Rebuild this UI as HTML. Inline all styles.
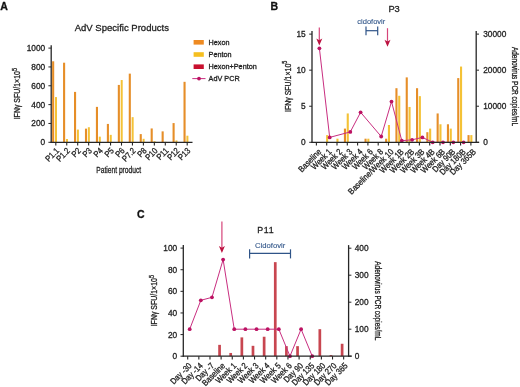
<!DOCTYPE html>
<html><head><meta charset="utf-8"><style>html,body{margin:0;padding:0;background:#fff;}body{width:520px;height:387px;overflow:hidden;font-family:"Liberation Sans", sans-serif;}svg{display:block;filter:blur(0.3px);}</style></head><body>
<svg width="520" height="387" viewBox="0 0 520 387" font-family='"Liberation Sans", sans-serif'>
<style>text{stroke:currentColor;stroke-width:0.3;paint-order:stroke;}</style>
<rect width="520" height="387" fill="#ffffff"/>
<text x="0.20" y="9.60" font-size="10.5" text-anchor="start" fill="#111" color="#111" font-weight="bold">A</text>
<g transform="translate(121.8 31.3) scale(0.972 1)"><text x="0.00" y="0.00" font-size="9.8" text-anchor="middle" fill="#1f1f1f" color="#1f1f1f" font-weight="normal">AdV Specific Products</text></g>
<rect x="52.10" y="61.29" width="2.10" height="81.01" fill="#E68E28"/>
<rect x="55.00" y="97.08" width="2.00" height="45.22" fill="#F4C236"/>
<rect x="63.05" y="62.70" width="2.10" height="79.60" fill="#E68E28"/>
<rect x="65.95" y="139.00" width="2.00" height="3.30" fill="#F4C236"/>
<rect x="74.00" y="91.90" width="2.10" height="50.40" fill="#E68E28"/>
<rect x="76.90" y="129.58" width="2.00" height="12.72" fill="#F4C236"/>
<rect x="84.95" y="128.64" width="2.10" height="13.66" fill="#E68E28"/>
<rect x="87.85" y="127.23" width="2.00" height="15.07" fill="#F4C236"/>
<rect x="95.90" y="106.88" width="2.10" height="35.42" fill="#E68E28"/>
<rect x="98.80" y="136.65" width="2.00" height="5.65" fill="#F4C236"/>
<rect x="106.85" y="123.93" width="2.10" height="18.37" fill="#E68E28"/>
<rect x="109.75" y="134.86" width="2.00" height="7.44" fill="#F4C236"/>
<rect x="117.80" y="84.93" width="2.10" height="57.37" fill="#E68E28"/>
<rect x="120.70" y="80.03" width="2.00" height="62.27" fill="#F4C236"/>
<rect x="128.75" y="73.63" width="2.10" height="68.67" fill="#E68E28"/>
<rect x="131.65" y="117.15" width="2.00" height="25.15" fill="#F4C236"/>
<rect x="139.70" y="134.10" width="2.10" height="8.20" fill="#E68E28"/>
<rect x="142.60" y="138.81" width="2.00" height="3.49" fill="#F4C236"/>
<rect x="150.65" y="128.45" width="2.10" height="13.85" fill="#E68E28"/>
<rect x="153.55" y="141.17" width="2.00" height="1.13" fill="#F4C236"/>
<rect x="161.60" y="131.37" width="2.10" height="10.93" fill="#E68E28"/>
<rect x="164.50" y="141.83" width="2.00" height="0.47" fill="#F4C236"/>
<rect x="172.55" y="123.08" width="2.10" height="19.22" fill="#E68E28"/>
<rect x="175.45" y="140.42" width="2.00" height="1.88" fill="#F4C236"/>
<rect x="183.50" y="81.82" width="2.10" height="60.48" fill="#E68E28"/>
<rect x="186.40" y="135.71" width="2.00" height="6.59" fill="#F4C236"/>
<line x1="51.20" y1="45.30" x2="51.20" y2="142.90" stroke="#262626" stroke-width="1.3"/>
<line x1="50.60" y1="142.30" x2="192.50" y2="142.30" stroke="#262626" stroke-width="1.3"/>
<line x1="48.40" y1="142.30" x2="51.20" y2="142.30" stroke="#262626" stroke-width="1.0"/>
<text x="45.20" y="145.30" font-size="8.3" text-anchor="end" fill="#1f1f1f" color="#1f1f1f" font-weight="normal">0</text>
<line x1="48.40" y1="123.46" x2="51.20" y2="123.46" stroke="#262626" stroke-width="1.0"/>
<text x="45.20" y="126.46" font-size="8.3" text-anchor="end" fill="#1f1f1f" color="#1f1f1f" font-weight="normal">200</text>
<line x1="48.40" y1="104.62" x2="51.20" y2="104.62" stroke="#262626" stroke-width="1.0"/>
<text x="45.20" y="107.62" font-size="8.3" text-anchor="end" fill="#1f1f1f" color="#1f1f1f" font-weight="normal">400</text>
<line x1="48.40" y1="85.78" x2="51.20" y2="85.78" stroke="#262626" stroke-width="1.0"/>
<text x="45.20" y="88.78" font-size="8.3" text-anchor="end" fill="#1f1f1f" color="#1f1f1f" font-weight="normal">600</text>
<line x1="48.40" y1="66.94" x2="51.20" y2="66.94" stroke="#262626" stroke-width="1.0"/>
<text x="45.20" y="69.94" font-size="8.3" text-anchor="end" fill="#1f1f1f" color="#1f1f1f" font-weight="normal">800</text>
<line x1="48.40" y1="48.10" x2="51.20" y2="48.10" stroke="#262626" stroke-width="1.0"/>
<text x="45.20" y="51.10" font-size="8.3" text-anchor="end" fill="#1f1f1f" color="#1f1f1f" font-weight="normal">1000</text>
<line x1="55.80" y1="142.30" x2="55.80" y2="145.60" stroke="#262626" stroke-width="1.1"/>
<g transform="translate(59.60 151.40) rotate(-45) scale(0.87 1)"><text x="0" y="0" font-size="8.6" text-anchor="end" fill="#1f1f1f" color="#1f1f1f">P1.1</text></g>
<line x1="66.75" y1="142.30" x2="66.75" y2="145.60" stroke="#262626" stroke-width="1.1"/>
<g transform="translate(70.55 151.40) rotate(-45) scale(0.87 1)"><text x="0" y="0" font-size="8.6" text-anchor="end" fill="#1f1f1f" color="#1f1f1f">P1.2</text></g>
<line x1="77.70" y1="142.30" x2="77.70" y2="145.60" stroke="#262626" stroke-width="1.1"/>
<g transform="translate(81.50 151.40) rotate(-45) scale(0.87 1)"><text x="0" y="0" font-size="8.6" text-anchor="end" fill="#1f1f1f" color="#1f1f1f">P2</text></g>
<line x1="88.65" y1="142.30" x2="88.65" y2="145.60" stroke="#262626" stroke-width="1.1"/>
<g transform="translate(92.45 151.40) rotate(-45) scale(0.87 1)"><text x="0" y="0" font-size="8.6" text-anchor="end" fill="#1f1f1f" color="#1f1f1f">P3</text></g>
<line x1="99.60" y1="142.30" x2="99.60" y2="145.60" stroke="#262626" stroke-width="1.1"/>
<g transform="translate(103.40 151.40) rotate(-45) scale(0.87 1)"><text x="0" y="0" font-size="8.6" text-anchor="end" fill="#1f1f1f" color="#1f1f1f">P4</text></g>
<line x1="110.55" y1="142.30" x2="110.55" y2="145.60" stroke="#262626" stroke-width="1.1"/>
<g transform="translate(114.35 151.40) rotate(-45) scale(0.87 1)"><text x="0" y="0" font-size="8.6" text-anchor="end" fill="#1f1f1f" color="#1f1f1f">P5</text></g>
<line x1="121.50" y1="142.30" x2="121.50" y2="145.60" stroke="#262626" stroke-width="1.1"/>
<g transform="translate(125.30 151.40) rotate(-45) scale(0.87 1)"><text x="0" y="0" font-size="8.6" text-anchor="end" fill="#1f1f1f" color="#1f1f1f">P6</text></g>
<line x1="132.45" y1="142.30" x2="132.45" y2="145.60" stroke="#262626" stroke-width="1.1"/>
<g transform="translate(136.25 151.40) rotate(-45) scale(0.87 1)"><text x="0" y="0" font-size="8.6" text-anchor="end" fill="#1f1f1f" color="#1f1f1f">P7.2</text></g>
<line x1="143.40" y1="142.30" x2="143.40" y2="145.60" stroke="#262626" stroke-width="1.1"/>
<g transform="translate(147.20 151.40) rotate(-45) scale(0.87 1)"><text x="0" y="0" font-size="8.6" text-anchor="end" fill="#1f1f1f" color="#1f1f1f">P8</text></g>
<line x1="154.35" y1="142.30" x2="154.35" y2="145.60" stroke="#262626" stroke-width="1.1"/>
<g transform="translate(158.15 151.40) rotate(-45) scale(0.87 1)"><text x="0" y="0" font-size="8.6" text-anchor="end" fill="#1f1f1f" color="#1f1f1f">P10</text></g>
<line x1="165.30" y1="142.30" x2="165.30" y2="145.60" stroke="#262626" stroke-width="1.1"/>
<g transform="translate(169.10 151.40) rotate(-45) scale(0.87 1)"><text x="0" y="0" font-size="8.6" text-anchor="end" fill="#1f1f1f" color="#1f1f1f">P11</text></g>
<line x1="176.25" y1="142.30" x2="176.25" y2="145.60" stroke="#262626" stroke-width="1.1"/>
<g transform="translate(180.05 151.40) rotate(-45) scale(0.87 1)"><text x="0" y="0" font-size="8.6" text-anchor="end" fill="#1f1f1f" color="#1f1f1f">P12</text></g>
<line x1="187.20" y1="142.30" x2="187.20" y2="145.60" stroke="#262626" stroke-width="1.1"/>
<g transform="translate(191.00 151.40) rotate(-45) scale(0.87 1)"><text x="0" y="0" font-size="8.6" text-anchor="end" fill="#1f1f1f" color="#1f1f1f">P13</text></g>
<g transform="translate(118.7 172.6) scale(0.728 1)"><text x="0" y="0" font-size="9.2" text-anchor="middle" fill="#1f1f1f" color="#1f1f1f">Patient product</text></g>
<g transform="translate(20.30 93.70) rotate(-90) scale(0.84 1)"><text x="0" y="0" font-size="8.3" text-anchor="middle" fill="#1f1f1f" color="#1f1f1f">IFN&#947; SFU/1&#215;10<tspan dy="-3.2" font-size="6.47">5</tspan></text></g>
<rect x="193.60" y="40.00" width="10.20" height="4.60" fill="#EE8A22"/>
<text x="208.60" y="44.80" font-size="7.25" text-anchor="start" fill="#1f1f1f" color="#1f1f1f" font-weight="normal">Hexon</text>
<rect x="193.60" y="52.20" width="10.20" height="4.60" fill="#F5BF20"/>
<text x="208.60" y="57.00" font-size="7.25" text-anchor="start" fill="#1f1f1f" color="#1f1f1f" font-weight="normal">Penton</text>
<rect x="193.60" y="64.40" width="10.20" height="4.60" fill="#C8102E"/>
<text x="208.60" y="69.20" font-size="7.25" text-anchor="start" fill="#1f1f1f" color="#1f1f1f" font-weight="normal">Hexon+Penton</text>
<line x1="192.30" y1="78.60" x2="205.50" y2="78.60" stroke="#C92E80" stroke-width="1.0"/>
<circle cx="199" cy="78.6" r="1.9" fill="#BC1262"/>
<text x="208.60" y="80.90" font-size="7.25" text-anchor="start" fill="#1f1f1f" color="#1f1f1f" font-weight="normal">AdV PCR</text>
<text x="270.60" y="9.60" font-size="10.5" text-anchor="start" fill="#111" color="#111" font-weight="bold">B</text>
<text x="388.40" y="11.80" font-size="9.3" text-anchor="start" fill="#1f1f1f" color="#1f1f1f" font-weight="normal">P3</text>
<rect x="326.10" y="135.09" width="2.10" height="7.21" fill="#F4C236"/>
<rect x="336.40" y="138.69" width="2.10" height="3.61" fill="#F4C236"/>
<rect x="343.90" y="128.60" width="2.10" height="13.70" fill="#E68E28"/>
<rect x="346.70" y="113.45" width="2.10" height="28.85" fill="#F4C236"/>
<rect x="364.50" y="138.69" width="2.10" height="3.61" fill="#E68E28"/>
<rect x="367.30" y="138.69" width="2.10" height="3.61" fill="#F4C236"/>
<rect x="385.10" y="138.69" width="2.10" height="3.61" fill="#E68E28"/>
<rect x="387.90" y="124.99" width="2.10" height="17.31" fill="#F4C236"/>
<rect x="395.40" y="88.20" width="2.10" height="54.10" fill="#E68E28"/>
<rect x="398.20" y="95.78" width="2.10" height="46.52" fill="#F4C236"/>
<rect x="405.70" y="77.38" width="2.10" height="64.92" fill="#E68E28"/>
<rect x="408.50" y="106.96" width="2.10" height="35.34" fill="#F4C236"/>
<rect x="416.00" y="88.20" width="2.10" height="54.10" fill="#E68E28"/>
<rect x="418.80" y="96.14" width="2.10" height="46.16" fill="#F4C236"/>
<rect x="426.30" y="132.20" width="2.10" height="10.10" fill="#E68E28"/>
<rect x="429.10" y="128.60" width="2.10" height="13.70" fill="#F4C236"/>
<rect x="436.60" y="113.45" width="2.10" height="28.85" fill="#E68E28"/>
<rect x="439.40" y="124.27" width="2.10" height="18.03" fill="#F4C236"/>
<rect x="446.90" y="124.27" width="2.10" height="18.03" fill="#E68E28"/>
<rect x="449.70" y="128.60" width="2.10" height="13.70" fill="#F4C236"/>
<rect x="457.20" y="78.10" width="2.10" height="64.20" fill="#E68E28"/>
<rect x="460.00" y="66.56" width="2.10" height="75.74" fill="#F4C236"/>
<rect x="467.50" y="135.09" width="2.10" height="7.21" fill="#E68E28"/>
<rect x="470.30" y="135.09" width="2.10" height="7.21" fill="#F4C236"/>
<polyline points="319.40,48.30 329.70,137.40 350.30,131.90 360.60,112.30 381.20,136.50 391.50,101.60 401.80,140.70 412.10,139.80 422.40,137.40 432.70,142.30 443.00,142.30 453.30,142.30 463.60,142.30" fill="none" stroke="#C92E80" stroke-width="1.0"/>
<circle cx="319.40" cy="48.30" r="1.9" fill="#BC1262"/>
<circle cx="329.70" cy="137.40" r="1.9" fill="#BC1262"/>
<circle cx="350.30" cy="131.90" r="1.9" fill="#BC1262"/>
<circle cx="360.60" cy="112.30" r="1.9" fill="#BC1262"/>
<circle cx="381.20" cy="136.50" r="1.9" fill="#BC1262"/>
<circle cx="391.50" cy="101.60" r="1.9" fill="#BC1262"/>
<circle cx="401.80" cy="140.70" r="1.9" fill="#BC1262"/>
<circle cx="412.10" cy="139.80" r="1.9" fill="#BC1262"/>
<circle cx="422.40" cy="137.40" r="1.9" fill="#BC1262"/>
<circle cx="432.70" cy="142.30" r="1.9" fill="#BC1262"/>
<circle cx="443.00" cy="142.30" r="1.9" fill="#BC1262"/>
<circle cx="453.30" cy="142.30" r="1.9" fill="#BC1262"/>
<circle cx="463.60" cy="142.30" r="1.9" fill="#BC1262"/>
<line x1="312.00" y1="31.10" x2="312.00" y2="142.90" stroke="#262626" stroke-width="1.3"/>
<line x1="476.20" y1="31.10" x2="476.20" y2="142.90" stroke="#262626" stroke-width="1.3"/>
<line x1="311.40" y1="142.30" x2="479.20" y2="142.30" stroke="#262626" stroke-width="1.3"/>
<line x1="309.20" y1="142.30" x2="312.00" y2="142.30" stroke="#262626" stroke-width="1.0"/>
<text x="305.70" y="145.30" font-size="8.3" text-anchor="end" fill="#1f1f1f" color="#1f1f1f" font-weight="normal">0</text>
<line x1="309.20" y1="106.24" x2="312.00" y2="106.24" stroke="#262626" stroke-width="1.0"/>
<text x="305.70" y="109.24" font-size="8.3" text-anchor="end" fill="#1f1f1f" color="#1f1f1f" font-weight="normal">5</text>
<line x1="309.20" y1="70.17" x2="312.00" y2="70.17" stroke="#262626" stroke-width="1.0"/>
<text x="305.70" y="73.17" font-size="8.3" text-anchor="end" fill="#1f1f1f" color="#1f1f1f" font-weight="normal">10</text>
<line x1="309.20" y1="34.11" x2="312.00" y2="34.11" stroke="#262626" stroke-width="1.0"/>
<text x="305.70" y="37.11" font-size="8.3" text-anchor="end" fill="#1f1f1f" color="#1f1f1f" font-weight="normal">15</text>
<line x1="476.20" y1="142.30" x2="479.00" y2="142.30" stroke="#262626" stroke-width="1.0"/>
<text x="483.20" y="145.30" font-size="8.3" text-anchor="start" fill="#1f1f1f" color="#1f1f1f" font-weight="normal">0</text>
<line x1="476.20" y1="106.23" x2="479.00" y2="106.23" stroke="#262626" stroke-width="1.0"/>
<text x="483.20" y="109.23" font-size="8.3" text-anchor="start" fill="#1f1f1f" color="#1f1f1f" font-weight="normal">10000</text>
<line x1="476.20" y1="70.17" x2="479.00" y2="70.17" stroke="#262626" stroke-width="1.0"/>
<text x="483.20" y="73.17" font-size="8.3" text-anchor="start" fill="#1f1f1f" color="#1f1f1f" font-weight="normal">20000</text>
<line x1="476.20" y1="34.10" x2="479.00" y2="34.10" stroke="#262626" stroke-width="1.0"/>
<text x="483.20" y="37.10" font-size="8.3" text-anchor="start" fill="#1f1f1f" color="#1f1f1f" font-weight="normal">30000</text>
<line x1="316.40" y1="142.30" x2="316.40" y2="145.60" stroke="#262626" stroke-width="1.1"/>
<g transform="translate(322.00 152.40) rotate(-45) scale(0.87 1)"><text x="0" y="0" font-size="8.6" text-anchor="end" fill="#1f1f1f" color="#1f1f1f">Baseline</text></g>
<line x1="326.70" y1="142.30" x2="326.70" y2="145.60" stroke="#262626" stroke-width="1.1"/>
<g transform="translate(332.30 152.40) rotate(-45) scale(0.87 1)"><text x="0" y="0" font-size="8.6" text-anchor="end" fill="#1f1f1f" color="#1f1f1f">Week 1</text></g>
<line x1="337.00" y1="142.30" x2="337.00" y2="145.60" stroke="#262626" stroke-width="1.1"/>
<g transform="translate(342.60 152.40) rotate(-45) scale(0.87 1)"><text x="0" y="0" font-size="8.6" text-anchor="end" fill="#1f1f1f" color="#1f1f1f">Week 2</text></g>
<line x1="347.30" y1="142.30" x2="347.30" y2="145.60" stroke="#262626" stroke-width="1.1"/>
<g transform="translate(352.90 152.40) rotate(-45) scale(0.87 1)"><text x="0" y="0" font-size="8.6" text-anchor="end" fill="#1f1f1f" color="#1f1f1f">Week 3</text></g>
<line x1="357.60" y1="142.30" x2="357.60" y2="145.60" stroke="#262626" stroke-width="1.1"/>
<g transform="translate(363.20 152.40) rotate(-45) scale(0.87 1)"><text x="0" y="0" font-size="8.6" text-anchor="end" fill="#1f1f1f" color="#1f1f1f">Week 4</text></g>
<line x1="367.90" y1="142.30" x2="367.90" y2="145.60" stroke="#262626" stroke-width="1.1"/>
<g transform="translate(373.50 152.40) rotate(-45) scale(0.87 1)"><text x="0" y="0" font-size="8.6" text-anchor="end" fill="#1f1f1f" color="#1f1f1f">Week 6</text></g>
<line x1="378.20" y1="142.30" x2="378.20" y2="145.60" stroke="#262626" stroke-width="1.1"/>
<g transform="translate(383.80 152.40) rotate(-45) scale(0.87 1)"><text x="0" y="0" font-size="8.6" text-anchor="end" fill="#1f1f1f" color="#1f1f1f">Week 8</text></g>
<line x1="388.50" y1="142.30" x2="388.50" y2="145.60" stroke="#262626" stroke-width="1.1"/>
<g transform="translate(394.10 152.40) rotate(-45) scale(0.87 1)"><text x="0" y="0" font-size="8.6" text-anchor="end" fill="#1f1f1f" color="#1f1f1f">Baseline/Week 10</text></g>
<line x1="398.80" y1="142.30" x2="398.80" y2="145.60" stroke="#262626" stroke-width="1.1"/>
<g transform="translate(404.40 152.40) rotate(-45) scale(0.87 1)"><text x="0" y="0" font-size="8.6" text-anchor="end" fill="#1f1f1f" color="#1f1f1f">Week 1B</text></g>
<line x1="409.10" y1="142.30" x2="409.10" y2="145.60" stroke="#262626" stroke-width="1.1"/>
<g transform="translate(414.70 152.40) rotate(-45) scale(0.87 1)"><text x="0" y="0" font-size="8.6" text-anchor="end" fill="#1f1f1f" color="#1f1f1f">Week 2B</text></g>
<line x1="419.40" y1="142.30" x2="419.40" y2="145.60" stroke="#262626" stroke-width="1.1"/>
<g transform="translate(425.00 152.40) rotate(-45) scale(0.87 1)"><text x="0" y="0" font-size="8.6" text-anchor="end" fill="#1f1f1f" color="#1f1f1f">Week 3B</text></g>
<line x1="429.70" y1="142.30" x2="429.70" y2="145.60" stroke="#262626" stroke-width="1.1"/>
<g transform="translate(435.30 152.40) rotate(-45) scale(0.87 1)"><text x="0" y="0" font-size="8.6" text-anchor="end" fill="#1f1f1f" color="#1f1f1f">Week 4B</text></g>
<line x1="440.00" y1="142.30" x2="440.00" y2="145.60" stroke="#262626" stroke-width="1.1"/>
<g transform="translate(445.60 152.40) rotate(-45) scale(0.87 1)"><text x="0" y="0" font-size="8.6" text-anchor="end" fill="#1f1f1f" color="#1f1f1f">Week 6B</text></g>
<line x1="450.30" y1="142.30" x2="450.30" y2="145.60" stroke="#262626" stroke-width="1.1"/>
<g transform="translate(455.90 152.40) rotate(-45) scale(0.87 1)"><text x="0" y="0" font-size="8.6" text-anchor="end" fill="#1f1f1f" color="#1f1f1f">Day 90B</text></g>
<line x1="460.60" y1="142.30" x2="460.60" y2="145.60" stroke="#262626" stroke-width="1.1"/>
<g transform="translate(466.20 152.40) rotate(-45) scale(0.87 1)"><text x="0" y="0" font-size="8.6" text-anchor="end" fill="#1f1f1f" color="#1f1f1f">Day 180B</text></g>
<line x1="470.90" y1="142.30" x2="470.90" y2="145.60" stroke="#262626" stroke-width="1.1"/>
<g transform="translate(476.50 152.40) rotate(-45) scale(0.87 1)"><text x="0" y="0" font-size="8.6" text-anchor="end" fill="#1f1f1f" color="#1f1f1f">Day 365B</text></g>
<g transform="translate(290.60 86.30) rotate(-90) scale(0.84 1)"><text x="0" y="0" font-size="8.3" text-anchor="middle" fill="#1f1f1f" color="#1f1f1f">IFN&#947; SFU/1&#215;10<tspan dy="-3.2" font-size="6.47">5</tspan></text></g>
<g transform="translate(512.00 86.50) rotate(90) scale(0.78 1)"><text x="0" y="0" font-size="8.3" text-anchor="middle" fill="#1f1f1f" color="#1f1f1f">Adenovirus PCR copies/mL</text></g>
<text x="371.30" y="24.00" font-size="7.5" text-anchor="middle" fill="#2F5488" color="#2F5488" font-weight="normal" style="stroke-width:0.1">cidofovir</text>
<line x1="366.00" y1="30.70" x2="377.70" y2="30.70" stroke="#2F5488" stroke-width="1.2"/>
<line x1="366.00" y1="26.40" x2="366.00" y2="35.20" stroke="#2F5488" stroke-width="1.2"/>
<line x1="377.70" y1="26.40" x2="377.70" y2="35.20" stroke="#2F5488" stroke-width="1.2"/>
<line x1="319.30" y1="27.40" x2="319.30" y2="40.70" stroke="#D6457A" stroke-width="1.2"/><path d="M316.30 38.60 L319.30 40.20 L322.30 38.60 L319.30 45.60 Z" fill="#BC1240"/>
<line x1="387.50" y1="28.20" x2="387.50" y2="41.90" stroke="#D6457A" stroke-width="1.2"/><path d="M384.50 39.80 L387.50 41.40 L390.50 39.80 L387.50 46.80 Z" fill="#BC1240"/>
<text x="137.00" y="218.20" font-size="10.5" text-anchor="start" fill="#111" color="#111" font-weight="bold">C</text>
<text x="257.30" y="232.90" font-size="8.8" text-anchor="start" fill="#1f1f1f" color="#1f1f1f" font-weight="normal" letter-spacing="0.7">P11</text>
<rect x="218.22" y="344.85" width="2.70" height="11.35" fill="#C84650"/>
<rect x="229.36" y="352.96" width="2.70" height="3.24" fill="#C84650"/>
<rect x="240.50" y="337.39" width="2.70" height="18.81" fill="#C84650"/>
<rect x="251.64" y="345.82" width="2.70" height="10.38" fill="#C84650"/>
<rect x="262.78" y="336.74" width="2.70" height="19.46" fill="#C84650"/>
<rect x="273.92" y="262.15" width="2.70" height="94.05" fill="#C84650"/>
<rect x="285.06" y="346.15" width="2.70" height="10.05" fill="#C84650"/>
<rect x="296.20" y="346.15" width="2.70" height="10.05" fill="#C84650"/>
<rect x="318.48" y="329.18" width="2.70" height="27.02" fill="#C84650"/>
<rect x="329.62" y="355.12" width="2.70" height="1.08" fill="#C84650"/>
<rect x="340.76" y="343.77" width="2.70" height="12.43" fill="#C84650"/>
<polyline points="189.70,329.20 200.84,300.31 211.98,297.34 223.12,259.54 234.26,329.20 245.40,329.20 256.54,329.20 267.68,329.20 278.82,329.20 289.96,356.20 301.10,329.20 312.24,356.20" fill="none" stroke="#C92E80" stroke-width="1.0"/>
<circle cx="189.70" cy="329.20" r="1.9" fill="#BC1262"/>
<circle cx="200.84" cy="300.31" r="1.9" fill="#BC1262"/>
<circle cx="211.98" cy="297.34" r="1.9" fill="#BC1262"/>
<circle cx="223.12" cy="259.54" r="1.9" fill="#BC1262"/>
<circle cx="234.26" cy="329.20" r="1.9" fill="#BC1262"/>
<circle cx="245.40" cy="329.20" r="1.9" fill="#BC1262"/>
<circle cx="256.54" cy="329.20" r="1.9" fill="#BC1262"/>
<circle cx="267.68" cy="329.20" r="1.9" fill="#BC1262"/>
<circle cx="278.82" cy="329.20" r="1.9" fill="#BC1262"/>
<circle cx="289.96" cy="356.20" r="1.9" fill="#BC1262"/>
<circle cx="301.10" cy="329.20" r="1.9" fill="#BC1262"/>
<circle cx="312.24" cy="356.20" r="1.9" fill="#BC1262"/>
<line x1="183.30" y1="245.10" x2="183.30" y2="356.80" stroke="#262626" stroke-width="1.3"/>
<line x1="348.60" y1="245.10" x2="348.60" y2="356.80" stroke="#262626" stroke-width="1.3"/>
<line x1="182.70" y1="356.20" x2="351.80" y2="356.20" stroke="#262626" stroke-width="1.3"/>
<line x1="180.50" y1="356.20" x2="183.30" y2="356.20" stroke="#262626" stroke-width="1.0"/>
<text x="177.20" y="359.20" font-size="8.3" text-anchor="end" fill="#1f1f1f" color="#1f1f1f" font-weight="normal">0</text>
<line x1="180.50" y1="334.58" x2="183.30" y2="334.58" stroke="#262626" stroke-width="1.0"/>
<text x="177.20" y="337.58" font-size="8.3" text-anchor="end" fill="#1f1f1f" color="#1f1f1f" font-weight="normal">20</text>
<line x1="180.50" y1="312.96" x2="183.30" y2="312.96" stroke="#262626" stroke-width="1.0"/>
<text x="177.20" y="315.96" font-size="8.3" text-anchor="end" fill="#1f1f1f" color="#1f1f1f" font-weight="normal">40</text>
<line x1="180.50" y1="291.34" x2="183.30" y2="291.34" stroke="#262626" stroke-width="1.0"/>
<text x="177.20" y="294.34" font-size="8.3" text-anchor="end" fill="#1f1f1f" color="#1f1f1f" font-weight="normal">60</text>
<line x1="180.50" y1="269.72" x2="183.30" y2="269.72" stroke="#262626" stroke-width="1.0"/>
<text x="177.20" y="272.72" font-size="8.3" text-anchor="end" fill="#1f1f1f" color="#1f1f1f" font-weight="normal">80</text>
<line x1="180.50" y1="248.10" x2="183.30" y2="248.10" stroke="#262626" stroke-width="1.0"/>
<text x="177.20" y="251.10" font-size="8.3" text-anchor="end" fill="#1f1f1f" color="#1f1f1f" font-weight="normal">100</text>
<line x1="348.60" y1="356.20" x2="351.40" y2="356.20" stroke="#262626" stroke-width="1.0"/>
<text x="354.70" y="359.20" font-size="8.3" text-anchor="start" fill="#1f1f1f" color="#1f1f1f" font-weight="normal">0</text>
<line x1="348.60" y1="329.20" x2="351.40" y2="329.20" stroke="#262626" stroke-width="1.0"/>
<text x="354.70" y="332.20" font-size="8.3" text-anchor="start" fill="#1f1f1f" color="#1f1f1f" font-weight="normal">100</text>
<line x1="348.60" y1="302.20" x2="351.40" y2="302.20" stroke="#262626" stroke-width="1.0"/>
<text x="354.70" y="305.20" font-size="8.3" text-anchor="start" fill="#1f1f1f" color="#1f1f1f" font-weight="normal">200</text>
<line x1="348.60" y1="275.20" x2="351.40" y2="275.20" stroke="#262626" stroke-width="1.0"/>
<text x="354.70" y="278.20" font-size="8.3" text-anchor="start" fill="#1f1f1f" color="#1f1f1f" font-weight="normal">300</text>
<line x1="348.60" y1="248.20" x2="351.40" y2="248.20" stroke="#262626" stroke-width="1.0"/>
<text x="354.70" y="251.20" font-size="8.3" text-anchor="start" fill="#1f1f1f" color="#1f1f1f" font-weight="normal">400</text>
<line x1="187.70" y1="356.20" x2="187.70" y2="359.50" stroke="#262626" stroke-width="1.1"/>
<g transform="translate(192.30 366.30) rotate(-45) scale(0.87 1)"><text x="0" y="0" font-size="8.6" text-anchor="end" fill="#1f1f1f" color="#1f1f1f">Day -30</text></g>
<line x1="198.84" y1="356.20" x2="198.84" y2="359.50" stroke="#262626" stroke-width="1.1"/>
<g transform="translate(203.44 366.30) rotate(-45) scale(0.87 1)"><text x="0" y="0" font-size="8.6" text-anchor="end" fill="#1f1f1f" color="#1f1f1f">Day -14</text></g>
<line x1="209.98" y1="356.20" x2="209.98" y2="359.50" stroke="#262626" stroke-width="1.1"/>
<g transform="translate(214.58 366.30) rotate(-45) scale(0.87 1)"><text x="0" y="0" font-size="8.6" text-anchor="end" fill="#1f1f1f" color="#1f1f1f">Day -7</text></g>
<line x1="221.12" y1="356.20" x2="221.12" y2="359.50" stroke="#262626" stroke-width="1.1"/>
<g transform="translate(225.72 366.30) rotate(-45) scale(0.87 1)"><text x="0" y="0" font-size="8.6" text-anchor="end" fill="#1f1f1f" color="#1f1f1f">Baseline</text></g>
<line x1="232.26" y1="356.20" x2="232.26" y2="359.50" stroke="#262626" stroke-width="1.1"/>
<g transform="translate(236.86 366.30) rotate(-45) scale(0.87 1)"><text x="0" y="0" font-size="8.6" text-anchor="end" fill="#1f1f1f" color="#1f1f1f">Week 1</text></g>
<line x1="243.40" y1="356.20" x2="243.40" y2="359.50" stroke="#262626" stroke-width="1.1"/>
<g transform="translate(248.00 366.30) rotate(-45) scale(0.87 1)"><text x="0" y="0" font-size="8.6" text-anchor="end" fill="#1f1f1f" color="#1f1f1f">Week 2</text></g>
<line x1="254.54" y1="356.20" x2="254.54" y2="359.50" stroke="#262626" stroke-width="1.1"/>
<g transform="translate(259.14 366.30) rotate(-45) scale(0.87 1)"><text x="0" y="0" font-size="8.6" text-anchor="end" fill="#1f1f1f" color="#1f1f1f">Week 3</text></g>
<line x1="265.68" y1="356.20" x2="265.68" y2="359.50" stroke="#262626" stroke-width="1.1"/>
<g transform="translate(270.28 366.30) rotate(-45) scale(0.87 1)"><text x="0" y="0" font-size="8.6" text-anchor="end" fill="#1f1f1f" color="#1f1f1f">Week 4</text></g>
<line x1="276.82" y1="356.20" x2="276.82" y2="359.50" stroke="#262626" stroke-width="1.1"/>
<g transform="translate(281.42 366.30) rotate(-45) scale(0.87 1)"><text x="0" y="0" font-size="8.6" text-anchor="end" fill="#1f1f1f" color="#1f1f1f">Week 5</text></g>
<line x1="287.96" y1="356.20" x2="287.96" y2="359.50" stroke="#262626" stroke-width="1.1"/>
<g transform="translate(292.56 366.30) rotate(-45) scale(0.87 1)"><text x="0" y="0" font-size="8.6" text-anchor="end" fill="#1f1f1f" color="#1f1f1f">Week 6</text></g>
<line x1="299.10" y1="356.20" x2="299.10" y2="359.50" stroke="#262626" stroke-width="1.1"/>
<g transform="translate(303.70 366.30) rotate(-45) scale(0.87 1)"><text x="0" y="0" font-size="8.6" text-anchor="end" fill="#1f1f1f" color="#1f1f1f">Day 90</text></g>
<line x1="310.24" y1="356.20" x2="310.24" y2="359.50" stroke="#262626" stroke-width="1.1"/>
<g transform="translate(314.84 366.30) rotate(-45) scale(0.87 1)"><text x="0" y="0" font-size="8.6" text-anchor="end" fill="#1f1f1f" color="#1f1f1f">Day 135</text></g>
<line x1="321.38" y1="356.20" x2="321.38" y2="359.50" stroke="#262626" stroke-width="1.1"/>
<g transform="translate(325.98 366.30) rotate(-45) scale(0.87 1)"><text x="0" y="0" font-size="8.6" text-anchor="end" fill="#1f1f1f" color="#1f1f1f">Day 180</text></g>
<line x1="332.52" y1="356.20" x2="332.52" y2="359.50" stroke="#262626" stroke-width="1.1"/>
<g transform="translate(337.12 366.30) rotate(-45) scale(0.87 1)"><text x="0" y="0" font-size="8.6" text-anchor="end" fill="#1f1f1f" color="#1f1f1f">Day 270</text></g>
<line x1="343.66" y1="356.20" x2="343.66" y2="359.50" stroke="#262626" stroke-width="1.1"/>
<g transform="translate(348.26 366.30) rotate(-45) scale(0.87 1)"><text x="0" y="0" font-size="8.6" text-anchor="end" fill="#1f1f1f" color="#1f1f1f">Day 365</text></g>
<g transform="translate(156.70 300.70) rotate(-90) scale(0.84 1)"><text x="0" y="0" font-size="8.3" text-anchor="middle" fill="#1f1f1f" color="#1f1f1f">IFN&#947; SFU/1&#215;10<tspan dy="-3.2" font-size="6.47">5</tspan></text></g>
<g transform="translate(374.80 300.80) rotate(90) scale(0.78 1)"><text x="0" y="0" font-size="8.3" text-anchor="middle" fill="#1f1f1f" color="#1f1f1f">Adenovirus PCR copies/mL</text></g>
<text x="270.20" y="247.90" font-size="7.7" text-anchor="middle" fill="#2F5488" color="#2F5488" font-weight="normal" style="stroke-width:0.1">Cidofovir</text>
<line x1="249.60" y1="253.40" x2="290.50" y2="253.40" stroke="#2F5488" stroke-width="1.2"/>
<line x1="249.60" y1="249.30" x2="249.60" y2="258.40" stroke="#2F5488" stroke-width="1.2"/>
<line x1="290.50" y1="249.30" x2="290.50" y2="258.40" stroke="#2F5488" stroke-width="1.2"/>
<line x1="221.90" y1="221.50" x2="221.90" y2="248.20" stroke="#D6457A" stroke-width="1.2"/><path d="M218.90 246.10 L221.90 247.70 L224.90 246.10 L221.90 253.10 Z" fill="#BC1240"/>
</svg>
</body></html>
